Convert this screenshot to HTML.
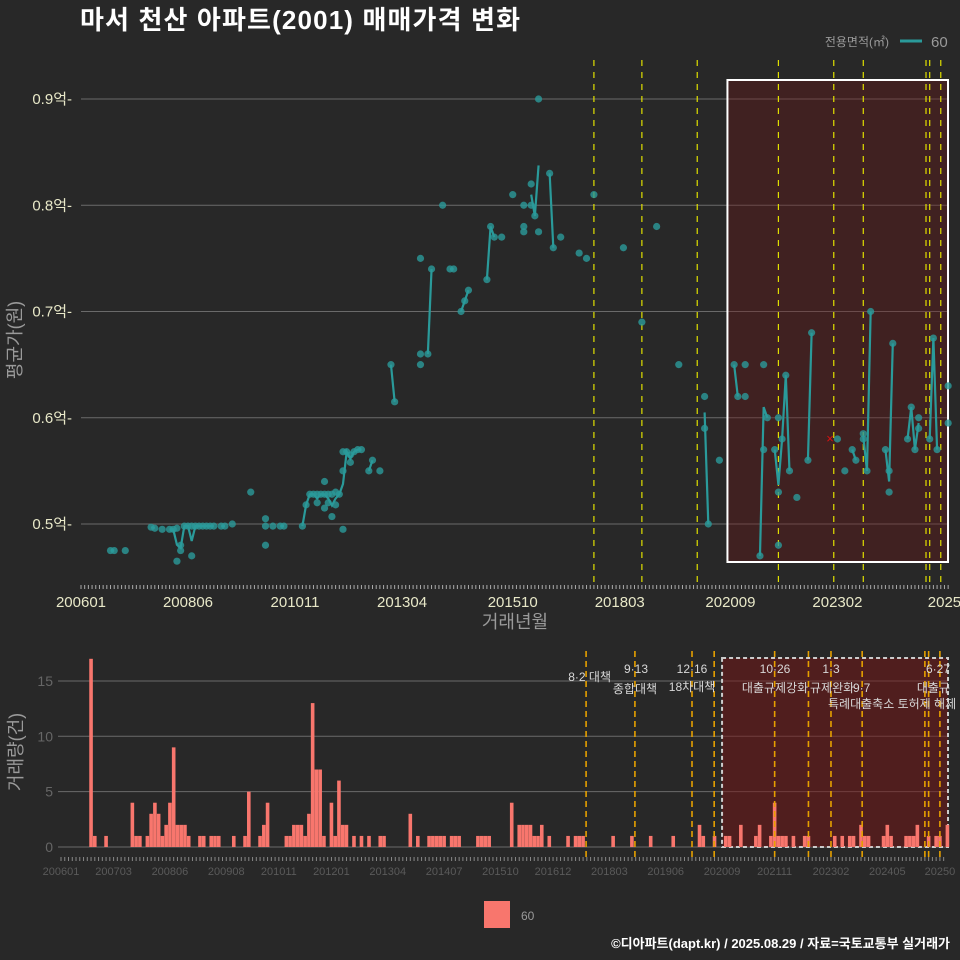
<!DOCTYPE html>
<html><head><meta charset="utf-8">
<style>
html,body{margin:0;padding:0;background:#282828;}
svg{display:block;font-family:"Liberation Sans","Noto Sans CJK KR",sans-serif;}
</style></head>
<body>
<svg id="chart" width="960" height="960" viewBox="0 0 960 960" xmlns="http://www.w3.org/2000/svg">
<rect x="0" y="0" width="960" height="960" fill="#282828"/>
<text x="80" y="29" font-size="26" font-weight="bold" fill="#ffffff" textLength="440">마서 천산 아파트(2001) 매매가격 변화</text>
<g>
<text x="889" y="46" font-size="12" fill="#9a9a9a" text-anchor="end">전용면적(㎡)</text>
<line x1="900" y1="41" x2="922" y2="41" stroke="#2a9a9a" stroke-width="3"/>
<text x="931" y="47" font-size="15" fill="#9a9a9a">60</text>
</g>
<g id="topg"></g>
<g id="botg"></g>
<g>
<rect x="484" y="901" width="26" height="27" fill="#f8766d"/>
<text x="521" y="920" font-size="12" fill="#9a9a9a">60</text>
</g>
<text x="950" y="948" font-size="13" font-weight="bold" fill="#ffffff" text-anchor="end">©디아파트(dapt.kr) / 2025.08.29 / 자료=국토교통부 실거래가</text>
</svg>
<script>
// price transactions: month index from 2006-01, price (억)
const tradeMonths=[8,9,12,19,20,22,24,25,26,26,27,27,28,29,30,31,32,33,34,35,36,38,39,41,30,46,50,50,50,52,54,55,60,61,62,63,64,64,65,66,66,66,67,67,68,68,69,69,70,71,71,71,72,73,73,74,75,76,78,79,81,
84,85,92,95,98,100,101,92,94,92,103,104,105,110,111,112,114,117,120,120,120,122,122,123,124,124,127,128,130,
135,137,139,147,152,156,162,169,169,170,173,177,178,180,180,185,184,185,186,188,189,189,189,190,191,192,194,197,198,205,207,209,210,212,212,213,214,218,219,219,220,224,225,226,227,227,230,231,232,235,235];
const tradePrices=[.475,.475,.475,.497,.496,.495,.495,.495,.496,.465,.48,.475,.498,.498,.498,.498,.498,.498,.498,.498,.498,.498,.498,.5,.47,.53,.498,.505,.48,.498,.498,.498,.498,.518,.528,.528,.52,.528,.528,.528,.54,.515,.52,.528,.528,.507,.53,.518,.528,.495,.55,.568,.568,.558,.565,.568,.57,.57,.55,.56,.55,
.65,.615,.75,.74,.80,.74,.74,.66,.66,.65,.70,.71,.72,.73,.78,.77,.77,.81,.78,.775,.80,.80,.82,.79,.90,.775,.83,.76,.77,
.755,.75,.81,.76,.69,.78,.65,.62,.59,.50,.56,.65,.62,.65,.62,.65,.47,.57,.60,.57,.60,.53,.48,.58,.64,.55,.525,.56,.68,.58,.55,.57,.56,.585,.58,.55,.70,.57,.55,.53,.67,.58,.61,.57,.60,.59,.58,.675,.57,.63,.595];
const cancelMonths=[203];
const cancelPrices=[.58];
const yTicks=[0.5,0.6,0.7,0.8,0.9];
const yTickLabels=["0.5억","0.6억","0.7억","0.8억","0.9억"];
const topXTicks=[0,29,58,87,117,146,176,205,234];
const topXLabels=["200601","200806","201011","201304","201510","201803","202009","202302","2025"];
// volume
const volMonths=[8,9,12,19,20,21,23,24,25,26,27,28,29,30,31,32,33,34,37,38,40,41,42,46,49,50,53,54,55,60,61,62,63,64,65,66,67,68,69,70,72,73,74,75,76,78,80,82,85,86,93,95,98,99,100,101,102,104,105,106,111,112,113,114,120,122,123,124,125,126,127,128,130,135,137,138,139,147,152,157,163,170,171,174,177,178,181,185,186,189,190,191,192,193,195,198,199,206,208,210,211,213,214,215,219,220,221,225,226,227,228,231,233,234,236];
const volCounts=[17,1,1,4,1,1,1,3,4,3,1,2,4,9,2,2,2,1,1,1,1,1,1,1,1,5,1,2,4,1,1,2,2,2,1,3,13,7,7,1,4,1,6,2,2,1,1,1,1,1,3,1,1,1,1,1,1,1,1,1,1,1,1,1,4,2,2,2,2,1,1,2,1,1,1,1,1,1,1,1,1,2,1,1,1,1,2,1,2,1,4,1,1,1,1,1,1,1,1,1,1,2,1,1,1,2,1,1,1,1,2,1,1,1,2];
const volTicks=[0,5,10,15];
const botXTicks=[0,14,29,44,58,72,87,102,117,131,146,161,176,190,205,220,234];
const botXLabels=["200601","200703","200806","200908","201011","201201","201304","201407","201510","201612","201803","201906","202009","202111","202302","202405","20250"];
// policy events (month index)
const topEventMonths=[139,152,167,189,204,212,229,230,233];
const botEventMonths=[139.8,152.8,168,173.9,190,199,205,213.3,230,231,234];
const highlightStart=176;

const NS="http://www.w3.org/2000/svg";
function mk(parent,tag,attrs){const e=document.createElementNS(NS,tag);for(const k in attrs)e.setAttribute(k,attrs[k]);parent.appendChild(e);return e;}
const tx=m=>81+m*3.69, ty=v=>524-(v-0.5)*1062.5;
const bx=m=>61+m*3.756, by=v=>847-v*11.07;
const topG=document.getElementById('topg'), botG=document.getElementById('botg');

yTicks.forEach((v,i)=>{
 const g=mk(topG,'line',{x1:81,x2:948,y1:ty(v),y2:ty(v),stroke:'#6a6a6a','stroke-width':1});
 
 
 const t=mk(topG,'text',{x:72,y:ty(v)+5,'font-size':15,fill:'#e8e8c8','text-anchor':'end'});
 t.textContent=yTickLabels[i]+'-';
 
 
});
const hr=mk(topG,'rect',{x:tx(highlightStart)-3,y:80,width:948-tx(highlightStart)+3,height:482,fill:'rgba(110,20,20,0.35)',stroke:'#ffffff','stroke-width':2});


topEventMonths.forEach(m=>{
 const l=mk(topG,'line',{x1:tx(m),x2:tx(m),y1:60,y2:588,stroke:'#e0e000','stroke-width':1.2,'stroke-dasharray':'6,6'});
 
 
});
const byM={};tradeMonths.forEach((m,i)=>{(byM[m]=byM[m]||[]).push(tradePrices[i]);});
const ms=Object.keys(byM).map(Number).sort((a,b)=>a-b);
let d='';ms.forEach((m,i)=>{const a=byM[m];const v=a.reduce((s,x)=>s+x,0)/a.length;d+=(i>0&&m-ms[i-1]===1?'L':'M')+tx(m)+','+ty(v);});
const pl=mk(topG,'path',{d:d,fill:'none',stroke:'#2a9a9a','stroke-width':2.2});


tradeMonths.forEach((m,i)=>{
 const c=mk(topG,'circle',{cx:tx(m),cy:ty(tradePrices[i]),r:3.6,fill:'#2a9a9a','fill-opacity':0.8});
 
 
});
cancelMonths.forEach((m,i)=>{
 const t=mk(topG,'text',{x:tx(m),y:ty(cancelPrices[i])+4,'font-size':13,fill:'#dd1111','text-anchor':'middle'});
 t.textContent='×';
 
 
});
let tk='';for(let m=0;m<=235;m++)tk+='M'+tx(m)+',585v4';
const tks=mk(topG,'path',{d:tk,stroke:'#aaaaaa','stroke-width':1});


topXTicks.forEach((m,i)=>{
 const t=mk(topG,'text',{x:tx(m),y:607,'font-size':15,fill:'#e8e8c8','text-anchor':'middle'});
 t.textContent=topXLabels[i];
 
 
});
const xt=mk(topG,'text',{x:515,y:628,'font-size':18,fill:'#9a9a9a','text-anchor':'middle'});
xt.textContent='거래년월';


const yt=mk(topG,'text',{x:0,y:0,'font-size':18,fill:'#9a9a9a','text-anchor':'middle',transform:'translate(21,340) rotate(-90)'});
yt.textContent='평균가(원)';



volTicks.forEach(v=>{
 const g=mk(botG,'line',{x1:58,x2:948,y1:by(v),y2:by(v),stroke:'#6a6a6a','stroke-width':1});
 
 
 const t=mk(botG,'text',{x:53,y:by(v)+5,'font-size':14,fill:'#666666','text-anchor':'end'});
 t.textContent=v;
 
 
});
const br=mk(botG,'rect',{x:bx(highlightStart),y:658,width:948-bx(highlightStart),height:189,fill:'rgba(120,20,20,0.5)',stroke:'#cccccc','stroke-width':2,'stroke-dasharray':'4,3'});


volMonths.forEach((m,i)=>{
 const r=mk(botG,'rect',{x:bx(m)-1.8,y:by(volCounts[i]),width:3.6,height:volCounts[i]*11.07,fill:'#f8766d'});
 
 
});
botEventMonths.forEach(m=>{
 const l=mk(botG,'line',{x1:bx(m),x2:bx(m),y1:651,y2:858,stroke:'#e6a000','stroke-width':1.6,'stroke-dasharray':'6,4'});
 
 
});
[['8·2 대책',611,681,'end'],['9·13',636,673,'middle'],['종합대책',635,693,'middle'],['12·16',692,673,'middle'],['18차대책',692,691,'middle'],
 ['10·26',775,673,'middle'],['대출규제강화',775,692,'middle'],['1·3',831,673,'middle'],['규제완화',810,692,'start'],['9·7',853,692,'start'],
 ['특례대출축소 토허제 해제',828,708,'start'],['6·27',950,673,'end'],['대출규',950,692,'end']].forEach(a=>{
 const t=mk(botG,'text',{x:a[1],y:a[2],'font-size':12,fill:'#d8d8d8','text-anchor':a[3]});
 t.textContent=a[0];
 
 
});
let tk2='';for(let m=0;m<=235;m++)tk2+='M'+bx(m)+',857v4';
const tk2p=mk(botG,'path',{d:tk2,stroke:'#888888','stroke-width':1});


botXTicks.forEach((m,i)=>{
 const t=mk(botG,'text',{x:bx(m),y:875,'font-size':11,fill:'#5a5a5a','text-anchor':'middle'});
 t.textContent=botXLabels[i];
 
 
});
const vt=mk(botG,'text',{x:0,y:0,'font-size':18,fill:'#9a9a9a','text-anchor':'middle',transform:'translate(22,752) rotate(-90)'});
vt.textContent='거래량(건)';


</script>
</body></html>
